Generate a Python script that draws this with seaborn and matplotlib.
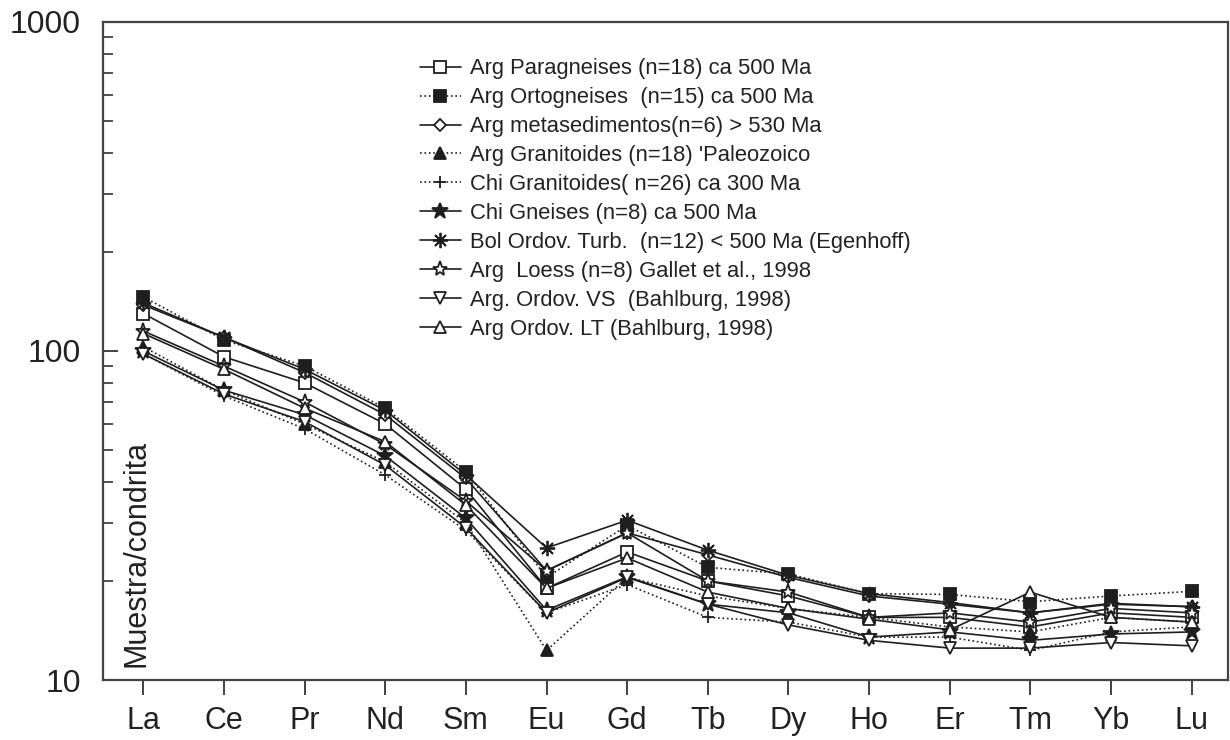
import numpy as np
import pandas as pd
import matplotlib
matplotlib.use("Agg")
import matplotlib.pyplot as plt
from matplotlib.ticker import LogLocator, NullFormatter, FixedLocator
import seaborn as sns

elements = ["La", "Ce", "Pr", "Nd", "Sm", "Eu", "Gd", "Tb", "Dy", "Ho", "Er", "Tm", "Yb", "Lu"]

labels = [
    "Arg Paragneises (n=18) ca 500 Ma",
    "Arg Ortogneises  (n=15) ca 500 Ma",
    "Arg metasedimentos(n=6) > 530 Ma",
    "Arg Granitoides (n=18) 'Paleozoico",
    "Chi Granitoides( n=26) ca 300 Ma",
    "Chi Gneises (n=8) ca 500 Ma",
    "Bol Ordov. Turb.  (n=12) < 500 Ma (Egenhoff)",
    "Arg  Loess (n=8) Gallet et al., 1998",
    "Arg. Ordov. VS  (Bahlburg, 1998)",
    "Arg Ordov. LT (Bahlburg, 1998)",
]

arg_paragneises = [130, 96, 80, 60, 38, 19.0, 24.5, 20.0, 18.0, 15.5, 15.5, 14.5, 16.0, 15.5]
arg_ortogneises = [146, 108, 90, 67, 43, 20.5, 29.5, 22.0, 21.0, 18.3, 18.2, 17.3, 18.0, 18.6]
arg_metasedim = [138, 110, 86, 64, 41, 21.5, 28.0, 24.0, 20.5, 18.0, 17.0, 16.0, 17.0, 16.7]
arg_granitoides = [103, 76, 60, 46, 30, 12.3, 20.5, 18.0, 16.5, 15.5, 14.5, 14.0, 15.5, 15.0]
chi_granitoides = [98, 73, 58, 42, 28.5, 16.0, 19.5, 15.5, 15.0, 13.5, 13.5, 12.3, 14.0, 14.5]
chi_gneises = [100, 76, 64, 48, 31, 16.3, 20.6, 17.0, 16.0, 13.5, 14.0, 13.2, 13.8, 14.0]
bol_ordov_turb = [140, 110, 88, 66, 42, 25.2, 30.6, 24.8, 20.8, 18.3, 17.2, 16.0, 17.1, 16.7]
arg_loess = [115, 90, 70, 52, 35, 21.5, 28.0, 20.0, 18.5, 15.5, 16.0, 15.0, 16.5, 16.0]
arg_ordov_vs = [98, 74, 61, 45, 29, 16.0, 20.5, 17.0, 14.7, 13.2, 12.5, 12.5, 13.0, 12.7]
arg_ordov_lt = [113, 88, 67, 53, 34, 19.0, 23.5, 18.5, 16.5, 15.3, 14.2, 18.5, 15.5, 15.0]

series = [arg_paragneises, arg_ortogneises, arg_metasedim, arg_granitoides,
          chi_granitoides, chi_gneises, bol_ordov_turb, arg_loess,
          arg_ordov_vs, arg_ordov_lt]

K = "#1e1e1e"
styles = [
    dict(marker="s", mfc="white", ms=9, ls="-"),
    dict(marker="s", mfc=K, ms=9, ls=":"),
    dict(marker="D", mfc="white", ms=6, ls="-"),
    dict(marker="^", mfc=K, ms=9, ls=":"),
    dict(marker="+", mfc=K, ms=8, ls=":"),
    dict(marker="*", mfc=K, ms=12, ls="-"),
    dict(marker=(8, 2, 0), mfc=K, ms=11, ls="-"),
    dict(marker="*", mfc="white", ms=11, ls="-"),
    dict(marker="v", mfc="white", ms=9, ls="-"),
    dict(marker="^", mfc="white", ms=9, ls="-"),
]

rows = []
for lab, vals in zip(labels, series):
    for i, (el, v) in enumerate(zip(elements, vals)):
        rows.append({"serie": lab, "pos": i, "element": el, "valor": v})
df = pd.DataFrame(rows)

sns.set_theme(style="ticks")
plt.rcParams["font.family"] = ["Liberation Sans", "DejaVu Sans"]

fig = plt.figure(figsize=(12.3, 7.4), dpi=100)
ax = fig.add_axes([103 / 1230, 60 / 740, (1228 - 103) / 1230, (680 - 22) / 740])

for lab, st in zip(labels, styles):
    sub = df[df["serie"] == lab]
    sns.lineplot(data=sub, x="pos", y="valor", ax=ax, color=K, lw=1.2,
                 marker=st["marker"], markersize=st["ms"], markerfacecolor=st["mfc"],
                 markeredgecolor=K, markeredgewidth=1.3, linestyle=st["ls"],
                 label=lab, sort=False)

ax.set_yscale("log")
ax.set_ylim(10, 1000)
ax.set_xlim(-0.5, 13.45)
ax.set_xlabel("")
ax.set_ylabel("")
ax.xaxis.set_major_locator(FixedLocator(range(len(elements))))
ax.set_xticklabels(elements)
ax.yaxis.set_major_locator(FixedLocator([10, 100, 1000]))
ax.set_yticklabels(["10", "100", "1000"])
ax.yaxis.set_minor_locator(LogLocator(base=10, subs=np.arange(2, 10)))
ax.yaxis.set_minor_formatter(NullFormatter())

ax.tick_params(axis="x", direction="out", length=11, width=1.3, color="#333",
               labelsize=22, pad=8, labelcolor="#222")
ax.tick_params(axis="y", which="major", direction="in", length=10.5, width=1.3,
               color="#333", labelsize=23, pad=16, labelcolor="#222")
ax.tick_params(axis="y", which="minor", direction="in", length=7, width=1.2, color="#333")
for sp in ax.spines.values():
    sp.set_visible(True)
    sp.set_color("#444")
    sp.set_linewidth(1.6)

ax.text(0.030, 0.02, "Muestra/condrita", transform=ax.transAxes, rotation=90,
        fontsize=22, color="#222", ha="center", va="bottom")

leg = ax.legend(loc="upper left", bbox_to_anchor=(0.274, 0.958), frameon=False,
                fontsize=15.8, labelspacing=0.36, handlelength=1.86,
                handletextpad=0.42, borderaxespad=0)
for t in leg.get_texts():
    t.set_color("#222")

fig.savefig("out.png", dpi=100, facecolor="white")
